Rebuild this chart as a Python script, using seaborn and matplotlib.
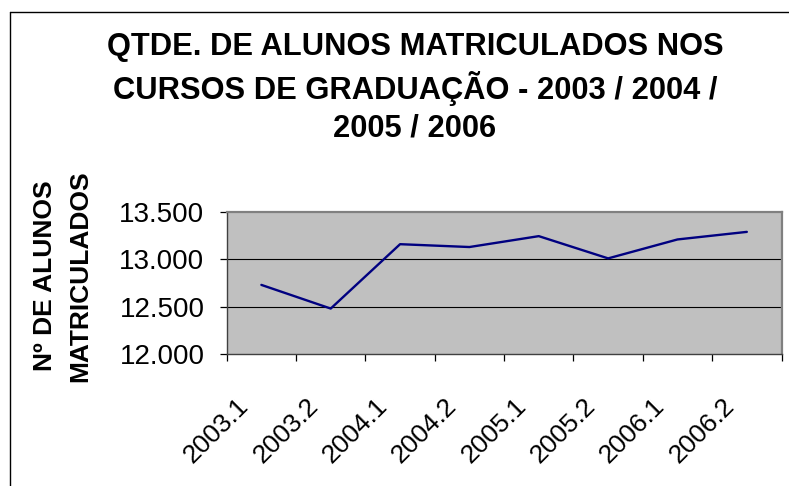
import matplotlib
matplotlib.use("Agg")
import matplotlib.pyplot as plt
import matplotlib.transforms as mtransforms
import seaborn as sns
import pandas as pd
from matplotlib.ticker import FuncFormatter, FixedLocator

semestres = ["2003.1", "2003.2", "2004.1", "2004.2", "2005.1", "2005.2", "2006.1", "2006.2"]
alunos = [12730, 12480, 13160, 13130, 13245, 13010, 13210, 13290]
yticks = [12000, 12500, 13000, 13500]

df = pd.DataFrame({"pos": range(len(semestres)), "alunos": alunos})

sns.set_style("white")
plt.rcParams['font.family'] = ['Liberation Sans', 'DejaVu Sans']
plt.rcParams['text.color'] = 'black'
plt.rcParams['xtick.color'] = 'black'
plt.rcParams['ytick.color'] = 'black'
plt.rcParams['axes.labelcolor'] = 'black'

fig = plt.figure(figsize=(7.89, 4.86), dpi=100)
ax = fig.add_axes([226.7/789, 1 - 354/486, (781.5-226.7)/789, (354-212)/486])
ax.set_facecolor("#C0C0C0")

sns.lineplot(data=df, x="pos", y="alunos", ax=ax, color="#000080", linewidth=1.7, sort=False)

ax.set_xlim(-0.5, len(semestres) - 0.5)
ax.set_ylim(12000, 13500)
ax.set_yticks(yticks)
ax.yaxis.set_major_formatter(FuncFormatter(lambda v, p: f"{int(v):,}".replace(",", ".")))
for y in yticks[1:-1]:
    ax.axhline(y, color="black", linewidth=0.8, zorder=1)

ax.set_xticks(range(len(semestres)))
ax.set_xticklabels(semestres, rotation=45, ha="right", va="top", rotation_mode="anchor", fontsize=19)
ax.tick_params(axis="x", which="major", length=0, pad=0)
offset = mtransforms.ScaledTranslation(-0.25, -0.40, fig.dpi_scale_trans)
for lbl in ax.get_xticklabels():
    lbl.set_transform(lbl.get_transform() + offset)
ax.xaxis.set_minor_locator(FixedLocator([i - 0.5 for i in range(len(semestres) + 1)]))
ax.tick_params(axis="x", which="minor", length=5, width=0.9, color="black", direction="out", bottom=True)
ax.tick_params(axis="y", length=5, width=0.9, color="black", direction="out", left=True, labelsize=20, pad=11)

for s in ["top", "right"]:
    ax.spines[s].set_color("#808080")
    ax.spines[s].set_linewidth(1.6)
for s in ["left", "bottom"]:
    ax.spines[s].set_color("#404040")
    ax.spines[s].set_linewidth(1.0)

ax.set_xlabel("")
ax.set_ylabel("")

titulo = ["QTDE. DE ALUNOS MATRICULADOS NOS", "CURSOS DE GRADUAÇÃO - 2003 / 2004 /", "2005 / 2006"]
for linha, yc in zip(titulo, [44, 85, 125]):
    fig.text(415/789, 1 - yc/486, linha, ha="center", va="center_baseline",
             fontsize=22.2, fontweight="bold")

fig.text(63/789, 1 - 276/486, "Nº DE ALUNOS\nMATRICULADOS", ha="center", va="center",
         rotation=90, fontsize=19, fontweight="bold", linespacing=1.6)

# chart frame
fig.add_artist(plt.Line2D([9.5/789, 9.5/789], [0, 1 - 12/486], color="black", linewidth=1))
fig.add_artist(plt.Line2D([9.5/789, 1], [1 - 12/486, 1 - 12/486], color="black", linewidth=1))

fig.savefig("out.png", dpi=100)
